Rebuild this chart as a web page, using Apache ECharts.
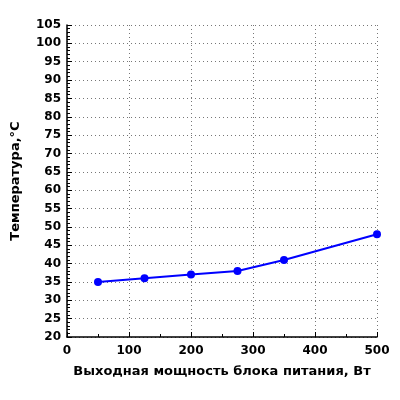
<!DOCTYPE html><html><head><meta charset="utf-8"><script src="https://cdn.jsdelivr.net/npm/echarts@6/dist/echarts.min.js"></script></head><body style="margin:0"><div id="c" style="width:400px;height:400px"></div><script>
const power=[50,125,200,275,350,500];
const temp=[35,36,37,38,41,48];
const xName='Выходная мощность блока питания, Вт';
const yName='Температура,°C';
const ch=echarts.init(document.getElementById('c'));
const lab={color:'#000',fontWeight:'bold',fontSize:12,fontFamily:'DejaVu Sans'};
ch.setOption({animation:false,
grid:{left:67,right:23,top:25,bottom:63},
xAxis:{type:'value',min:0,max:500,interval:100,name:xName,nameLocation:'middle',nameGap:28,
nameTextStyle:{color:'#000',fontWeight:'bold',fontSize:13,fontFamily:'DejaVu Sans'},
axisLine:{lineStyle:{color:'#000',width:1.5}},axisTick:{inside:true,length:5,lineStyle:{color:'#000'}},
minorTick:{show:true,splitNumber:2,length:3,lineStyle:{color:'#000'}},
axisLabel:Object.assign({margin:8},lab),splitLine:{show:true,lineStyle:{color:'#777',type:[1,3]}}},
yAxis:{type:'value',min:20,max:105,interval:5,name:yName,nameLocation:'middle',nameGap:45,
nameTextStyle:{color:'#000',fontWeight:'bold',fontSize:13,fontFamily:'DejaVu Sans'},
axisLine:{lineStyle:{color:'#000',width:1.5}},axisTick:{inside:true,length:5,lineStyle:{color:'#000'}},
minorTick:{show:true,splitNumber:5,length:3,lineStyle:{color:'#000'}},
axisLabel:Object.assign({margin:6},lab),splitLine:{show:true,lineStyle:{color:'#777',type:[1,3]}}},
series:[{type:'line',data:power.map((p,i)=>[p,temp[i]]),symbol:'circle',symbolSize:8,
lineStyle:{color:'#0000ff',width:2},itemStyle:{color:'#0000ff'}}]});
</script></body></html>
